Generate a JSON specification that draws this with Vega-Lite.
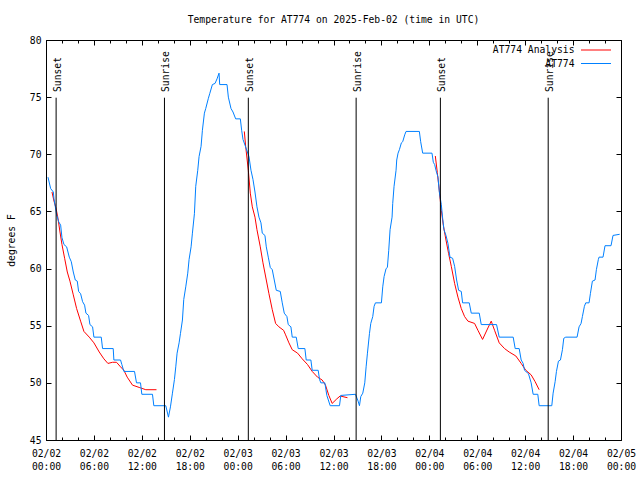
{
  "$schema": "https://vega.github.io/schema/vega-lite/v6.json",
  "width": 575,
  "height": 400,
  "autosize": {"type": "none"},
  "padding": {"left": 46, "top": 40, "right": 19, "bottom": 40},
  "background": "white",
  "title": {"text": "Temperature for AT774 on 2025-Feb-02 (time in UTC)", "font": "DejaVu Sans Mono", "fontSize": 9.7, "fontWeight": "normal", "color": "black", "offset": 10, "anchor": "middle"},
  "config": {
    "view": {"stroke": "black", "strokeWidth": 1},
    "font": "DejaVu Sans Mono",
    "axis": {"grid": false, "domain": false, "tickColor": "black", "labelColor": "black", "labelFont": "DejaVu Sans Mono", "labelFontSize": 9.7, "titleFont": "DejaVu Sans Mono", "titleFontSize": 9.7, "titleFontWeight": "normal", "titleColor": "black", "labelFlush": false, "labelOverlap": false}
  },
  "datasets": {
    "observed": [
      {"series": "AT774", "time": "2025-02-02T00:15:00Z", "temp": 68.0},
      {"series": "AT774", "time": "2025-02-02T00:35:00Z", "temp": 67.0},
      {"series": "AT774", "time": "2025-02-02T00:55:00Z", "temp": 66.7},
      {"series": "AT774", "time": "2025-02-02T01:00:00Z", "temp": 66.1},
      {"series": "AT774", "time": "2025-02-02T01:20:00Z", "temp": 64.7},
      {"series": "AT774", "time": "2025-02-02T01:35:00Z", "temp": 64.1},
      {"series": "AT774", "time": "2025-02-02T01:50:00Z", "temp": 63.8},
      {"series": "AT774", "time": "2025-02-02T02:00:00Z", "temp": 62.7},
      {"series": "AT774", "time": "2025-02-02T02:15:00Z", "temp": 62.1},
      {"series": "AT774", "time": "2025-02-02T02:35:00Z", "temp": 61.9},
      {"series": "AT774", "time": "2025-02-02T02:55:00Z", "temp": 61.0},
      {"series": "AT774", "time": "2025-02-02T03:10:00Z", "temp": 60.6},
      {"series": "AT774", "time": "2025-02-02T03:25:00Z", "temp": 59.7},
      {"series": "AT774", "time": "2025-02-02T03:40:00Z", "temp": 59.0},
      {"series": "AT774", "time": "2025-02-02T03:55:00Z", "temp": 58.9},
      {"series": "AT774", "time": "2025-02-02T04:05:00Z", "temp": 58.0},
      {"series": "AT774", "time": "2025-02-02T04:20:00Z", "temp": 57.8},
      {"series": "AT774", "time": "2025-02-02T04:35:00Z", "temp": 57.1},
      {"series": "AT774", "time": "2025-02-02T04:50:00Z", "temp": 56.8},
      {"series": "AT774", "time": "2025-02-02T05:00:00Z", "temp": 56.1},
      {"series": "AT774", "time": "2025-02-02T05:20:00Z", "temp": 55.9},
      {"series": "AT774", "time": "2025-02-02T05:30:00Z", "temp": 55.1},
      {"series": "AT774", "time": "2025-02-02T05:50:00Z", "temp": 54.9},
      {"series": "AT774", "time": "2025-02-02T06:00:00Z", "temp": 54.0},
      {"series": "AT774", "time": "2025-02-02T06:55:00Z", "temp": 54.0},
      {"series": "AT774", "time": "2025-02-02T07:05:00Z", "temp": 53.0},
      {"series": "AT774", "time": "2025-02-02T08:25:00Z", "temp": 53.0},
      {"series": "AT774", "time": "2025-02-02T08:30:00Z", "temp": 52.0},
      {"series": "AT774", "time": "2025-02-02T09:20:00Z", "temp": 52.0},
      {"series": "AT774", "time": "2025-02-02T09:30:00Z", "temp": 51.6},
      {"series": "AT774", "time": "2025-02-02T09:45:00Z", "temp": 51.0},
      {"series": "AT774", "time": "2025-02-02T11:05:00Z", "temp": 51.0},
      {"series": "AT774", "time": "2025-02-02T11:20:00Z", "temp": 50.0},
      {"series": "AT774", "time": "2025-02-02T11:50:00Z", "temp": 50.0},
      {"series": "AT774", "time": "2025-02-02T12:00:00Z", "temp": 49.0},
      {"series": "AT774", "time": "2025-02-02T13:20:00Z", "temp": 49.0},
      {"series": "AT774", "time": "2025-02-02T13:30:00Z", "temp": 48.0},
      {"series": "AT774", "time": "2025-02-02T15:00:00Z", "temp": 48.0},
      {"series": "AT774", "time": "2025-02-02T15:20:00Z", "temp": 47.0},
      {"series": "AT774", "time": "2025-02-02T15:35:00Z", "temp": 47.9},
      {"series": "AT774", "time": "2025-02-02T15:50:00Z", "temp": 49.1},
      {"series": "AT774", "time": "2025-02-02T16:05:00Z", "temp": 50.3},
      {"series": "AT774", "time": "2025-02-02T16:15:00Z", "temp": 51.4},
      {"series": "AT774", "time": "2025-02-02T16:25:00Z", "temp": 52.6},
      {"series": "AT774", "time": "2025-02-02T16:40:00Z", "temp": 53.5},
      {"series": "AT774", "time": "2025-02-02T16:50:00Z", "temp": 54.3},
      {"series": "AT774", "time": "2025-02-02T17:05:00Z", "temp": 55.5},
      {"series": "AT774", "time": "2025-02-02T17:15:00Z", "temp": 57.3},
      {"series": "AT774", "time": "2025-02-02T17:30:00Z", "temp": 58.4},
      {"series": "AT774", "time": "2025-02-02T17:45:00Z", "temp": 59.6},
      {"series": "AT774", "time": "2025-02-02T17:55:00Z", "temp": 60.8},
      {"series": "AT774", "time": "2025-02-02T18:10:00Z", "temp": 61.9},
      {"series": "AT774", "time": "2025-02-02T18:20:00Z", "temp": 63.1},
      {"series": "AT774", "time": "2025-02-02T18:35:00Z", "temp": 64.8},
      {"series": "AT774", "time": "2025-02-02T18:45:00Z", "temp": 67.2},
      {"series": "AT774", "time": "2025-02-02T19:00:00Z", "temp": 68.6},
      {"series": "AT774", "time": "2025-02-02T19:10:00Z", "temp": 69.8},
      {"series": "AT774", "time": "2025-02-02T19:25:00Z", "temp": 70.7},
      {"series": "AT774", "time": "2025-02-02T19:35:00Z", "temp": 72.1},
      {"series": "AT774", "time": "2025-02-02T19:50:00Z", "temp": 73.6},
      {"series": "AT774", "time": "2025-02-02T20:00:00Z", "temp": 74.0},
      {"series": "AT774", "time": "2025-02-02T20:20:00Z", "temp": 74.9},
      {"series": "AT774", "time": "2025-02-02T20:30:00Z", "temp": 75.3},
      {"series": "AT774", "time": "2025-02-02T20:50:00Z", "temp": 76.1},
      {"series": "AT774", "time": "2025-02-02T21:10:00Z", "temp": 76.2},
      {"series": "AT774", "time": "2025-02-02T21:25:00Z", "temp": 76.6},
      {"series": "AT774", "time": "2025-02-02T21:40:00Z", "temp": 77.1},
      {"series": "AT774", "time": "2025-02-02T21:45:00Z", "temp": 76.1},
      {"series": "AT774", "time": "2025-02-02T22:40:00Z", "temp": 76.1},
      {"series": "AT774", "time": "2025-02-02T22:50:00Z", "temp": 75.0},
      {"series": "AT774", "time": "2025-02-02T23:10:00Z", "temp": 74.0},
      {"series": "AT774", "time": "2025-02-02T23:25:00Z", "temp": 73.7},
      {"series": "AT774", "time": "2025-02-02T23:45:00Z", "temp": 73.1},
      {"series": "AT774", "time": "2025-02-03T00:20:00Z", "temp": 73.1},
      {"series": "AT774", "time": "2025-02-03T00:30:00Z", "temp": 72.1},
      {"series": "AT774", "time": "2025-02-03T00:40:00Z", "temp": 71.3},
      {"series": "AT774", "time": "2025-02-03T00:55:00Z", "temp": 70.8},
      {"series": "AT774", "time": "2025-02-03T01:25:00Z", "temp": 69.8},
      {"series": "AT774", "time": "2025-02-03T01:40:00Z", "temp": 68.6},
      {"series": "AT774", "time": "2025-02-03T01:55:00Z", "temp": 67.8},
      {"series": "AT774", "time": "2025-02-03T02:10:00Z", "temp": 66.7},
      {"series": "AT774", "time": "2025-02-03T02:25:00Z", "temp": 65.4},
      {"series": "AT774", "time": "2025-02-03T02:40:00Z", "temp": 64.5},
      {"series": "AT774", "time": "2025-02-03T02:55:00Z", "temp": 64.0},
      {"series": "AT774", "time": "2025-02-03T03:05:00Z", "temp": 63.1},
      {"series": "AT774", "time": "2025-02-03T03:25:00Z", "temp": 62.9},
      {"series": "AT774", "time": "2025-02-03T03:35:00Z", "temp": 61.9},
      {"series": "AT774", "time": "2025-02-03T03:50:00Z", "temp": 61.0},
      {"series": "AT774", "time": "2025-02-03T04:05:00Z", "temp": 60.1},
      {"series": "AT774", "time": "2025-02-03T04:20:00Z", "temp": 59.9},
      {"series": "AT774", "time": "2025-02-03T04:35:00Z", "temp": 59.0},
      {"series": "AT774", "time": "2025-02-03T04:50:00Z", "temp": 58.1},
      {"series": "AT774", "time": "2025-02-03T05:20:00Z", "temp": 58.0},
      {"series": "AT774", "time": "2025-02-03T05:35:00Z", "temp": 57.0},
      {"series": "AT774", "time": "2025-02-03T05:50:00Z", "temp": 56.1},
      {"series": "AT774", "time": "2025-02-03T06:10:00Z", "temp": 55.8},
      {"series": "AT774", "time": "2025-02-03T06:20:00Z", "temp": 55.1},
      {"series": "AT774", "time": "2025-02-03T06:40:00Z", "temp": 54.9},
      {"series": "AT774", "time": "2025-02-03T06:50:00Z", "temp": 54.0},
      {"series": "AT774", "time": "2025-02-03T07:20:00Z", "temp": 54.0},
      {"series": "AT774", "time": "2025-02-03T07:35:00Z", "temp": 53.0},
      {"series": "AT774", "time": "2025-02-03T08:25:00Z", "temp": 53.0},
      {"series": "AT774", "time": "2025-02-03T08:35:00Z", "temp": 52.0},
      {"series": "AT774", "time": "2025-02-03T09:10:00Z", "temp": 52.0},
      {"series": "AT774", "time": "2025-02-03T09:20:00Z", "temp": 51.1},
      {"series": "AT774", "time": "2025-02-03T10:05:00Z", "temp": 51.1},
      {"series": "AT774", "time": "2025-02-03T10:15:00Z", "temp": 50.3},
      {"series": "AT774", "time": "2025-02-03T10:25:00Z", "temp": 50.0},
      {"series": "AT774", "time": "2025-02-03T10:55:00Z", "temp": 50.0},
      {"series": "AT774", "time": "2025-02-03T11:10:00Z", "temp": 48.9},
      {"series": "AT774", "time": "2025-02-03T11:35:00Z", "temp": 48.0},
      {"series": "AT774", "time": "2025-02-03T12:45:00Z", "temp": 48.0},
      {"series": "AT774", "time": "2025-02-03T12:55:00Z", "temp": 48.9},
      {"series": "AT774", "time": "2025-02-03T14:45:00Z", "temp": 49.0},
      {"series": "AT774", "time": "2025-02-03T15:05:00Z", "temp": 48.4},
      {"series": "AT774", "time": "2025-02-03T15:15:00Z", "temp": 48.0},
      {"series": "AT774", "time": "2025-02-03T15:25:00Z", "temp": 48.8},
      {"series": "AT774", "time": "2025-02-03T15:40:00Z", "temp": 49.1},
      {"series": "AT774", "time": "2025-02-03T15:55:00Z", "temp": 50.0},
      {"series": "AT774", "time": "2025-02-03T16:05:00Z", "temp": 51.4},
      {"series": "AT774", "time": "2025-02-03T16:15:00Z", "temp": 52.6},
      {"series": "AT774", "time": "2025-02-03T16:30:00Z", "temp": 54.3},
      {"series": "AT774", "time": "2025-02-03T16:40:00Z", "temp": 55.2},
      {"series": "AT774", "time": "2025-02-03T16:55:00Z", "temp": 55.8},
      {"series": "AT774", "time": "2025-02-03T17:05:00Z", "temp": 56.7},
      {"series": "AT774", "time": "2025-02-03T17:15:00Z", "temp": 57.0},
      {"series": "AT774", "time": "2025-02-03T18:00:00Z", "temp": 57.0},
      {"series": "AT774", "time": "2025-02-03T18:10:00Z", "temp": 58.4},
      {"series": "AT774", "time": "2025-02-03T18:20:00Z", "temp": 59.3},
      {"series": "AT774", "time": "2025-02-03T18:35:00Z", "temp": 60.0},
      {"series": "AT774", "time": "2025-02-03T18:45:00Z", "temp": 60.1},
      {"series": "AT774", "time": "2025-02-03T18:55:00Z", "temp": 61.6},
      {"series": "AT774", "time": "2025-02-03T19:05:00Z", "temp": 63.4},
      {"series": "AT774", "time": "2025-02-03T19:20:00Z", "temp": 64.5},
      {"series": "AT774", "time": "2025-02-03T19:25:00Z", "temp": 65.7},
      {"series": "AT774", "time": "2025-02-03T19:35:00Z", "temp": 67.2},
      {"series": "AT774", "time": "2025-02-03T19:50:00Z", "temp": 68.6},
      {"series": "AT774", "time": "2025-02-03T19:55:00Z", "temp": 69.5},
      {"series": "AT774", "time": "2025-02-03T20:05:00Z", "temp": 70.1},
      {"series": "AT774", "time": "2025-02-03T20:15:00Z", "temp": 70.4},
      {"series": "AT774", "time": "2025-02-03T20:30:00Z", "temp": 71.0},
      {"series": "AT774", "time": "2025-02-03T20:40:00Z", "temp": 71.1},
      {"series": "AT774", "time": "2025-02-03T20:55:00Z", "temp": 71.7},
      {"series": "AT774", "time": "2025-02-03T21:05:00Z", "temp": 72.0},
      {"series": "AT774", "time": "2025-02-03T22:45:00Z", "temp": 72.0},
      {"series": "AT774", "time": "2025-02-03T22:55:00Z", "temp": 71.1},
      {"series": "AT774", "time": "2025-02-03T23:10:00Z", "temp": 70.1},
      {"series": "AT774", "time": "2025-02-04T00:20:00Z", "temp": 70.1},
      {"series": "AT774", "time": "2025-02-04T00:30:00Z", "temp": 69.3},
      {"series": "AT774", "time": "2025-02-04T00:40:00Z", "temp": 69.1},
      {"series": "AT774", "time": "2025-02-04T00:50:00Z", "temp": 68.6},
      {"series": "AT774", "time": "2025-02-04T01:05:00Z", "temp": 68.0},
      {"series": "AT774", "time": "2025-02-04T01:15:00Z", "temp": 66.7},
      {"series": "AT774", "time": "2025-02-04T01:30:00Z", "temp": 65.6},
      {"series": "AT774", "time": "2025-02-04T01:40:00Z", "temp": 64.4},
      {"series": "AT774", "time": "2025-02-04T01:50:00Z", "temp": 63.4},
      {"series": "AT774", "time": "2025-02-04T02:05:00Z", "temp": 62.9},
      {"series": "AT774", "time": "2025-02-04T02:20:00Z", "temp": 62.2},
      {"series": "AT774", "time": "2025-02-04T02:35:00Z", "temp": 61.0},
      {"series": "AT774", "time": "2025-02-04T02:55:00Z", "temp": 60.9},
      {"series": "AT774", "time": "2025-02-04T03:10:00Z", "temp": 60.2},
      {"series": "AT774", "time": "2025-02-04T03:25:00Z", "temp": 59.0},
      {"series": "AT774", "time": "2025-02-04T03:40:00Z", "temp": 58.1},
      {"series": "AT774", "time": "2025-02-04T04:00:00Z", "temp": 58.0},
      {"series": "AT774", "time": "2025-02-04T04:10:00Z", "temp": 57.0},
      {"series": "AT774", "time": "2025-02-04T05:00:00Z", "temp": 57.0},
      {"series": "AT774", "time": "2025-02-04T05:15:00Z", "temp": 56.1},
      {"series": "AT774", "time": "2025-02-04T06:15:00Z", "temp": 56.1},
      {"series": "AT774", "time": "2025-02-04T06:30:00Z", "temp": 55.1},
      {"series": "AT774", "time": "2025-02-04T08:25:00Z", "temp": 55.1},
      {"series": "AT774", "time": "2025-02-04T08:45:00Z", "temp": 54.0},
      {"series": "AT774", "time": "2025-02-04T10:30:00Z", "temp": 54.0},
      {"series": "AT774", "time": "2025-02-04T10:45:00Z", "temp": 53.0},
      {"series": "AT774", "time": "2025-02-04T11:15:00Z", "temp": 53.0},
      {"series": "AT774", "time": "2025-02-04T11:30:00Z", "temp": 52.0},
      {"series": "AT774", "time": "2025-02-04T11:45:00Z", "temp": 51.7},
      {"series": "AT774", "time": "2025-02-04T11:55:00Z", "temp": 51.1},
      {"series": "AT774", "time": "2025-02-04T12:25:00Z", "temp": 50.8},
      {"series": "AT774", "time": "2025-02-04T12:45:00Z", "temp": 50.0},
      {"series": "AT774", "time": "2025-02-04T13:00:00Z", "temp": 49.0},
      {"series": "AT774", "time": "2025-02-04T13:35:00Z", "temp": 49.0},
      {"series": "AT774", "time": "2025-02-04T13:45:00Z", "temp": 48.0},
      {"series": "AT774", "time": "2025-02-04T15:20:00Z", "temp": 48.0},
      {"series": "AT774", "time": "2025-02-04T15:30:00Z", "temp": 49.1},
      {"series": "AT774", "time": "2025-02-04T15:45:00Z", "temp": 50.1},
      {"series": "AT774", "time": "2025-02-04T15:55:00Z", "temp": 51.0},
      {"series": "AT774", "time": "2025-02-04T16:10:00Z", "temp": 51.9},
      {"series": "AT774", "time": "2025-02-04T16:25:00Z", "temp": 52.0},
      {"series": "AT774", "time": "2025-02-04T16:40:00Z", "temp": 52.9},
      {"series": "AT774", "time": "2025-02-04T16:50:00Z", "temp": 53.9},
      {"series": "AT774", "time": "2025-02-04T17:05:00Z", "temp": 54.0},
      {"series": "AT774", "time": "2025-02-04T18:30:00Z", "temp": 54.0},
      {"series": "AT774", "time": "2025-02-04T18:45:00Z", "temp": 54.9},
      {"series": "AT774", "time": "2025-02-04T19:00:00Z", "temp": 55.2},
      {"series": "AT774", "time": "2025-02-04T19:10:00Z", "temp": 55.8},
      {"series": "AT774", "time": "2025-02-04T19:25:00Z", "temp": 56.7},
      {"series": "AT774", "time": "2025-02-04T19:35:00Z", "temp": 57.0},
      {"series": "AT774", "time": "2025-02-04T20:00:00Z", "temp": 57.0},
      {"series": "AT774", "time": "2025-02-04T20:10:00Z", "temp": 57.8},
      {"series": "AT774", "time": "2025-02-04T20:25:00Z", "temp": 58.9},
      {"series": "AT774", "time": "2025-02-04T20:45:00Z", "temp": 59.0},
      {"series": "AT774", "time": "2025-02-04T20:55:00Z", "temp": 59.9},
      {"series": "AT774", "time": "2025-02-04T21:10:00Z", "temp": 60.8},
      {"series": "AT774", "time": "2025-02-04T21:15:00Z", "temp": 61.0},
      {"series": "AT774", "time": "2025-02-04T21:45:00Z", "temp": 61.0},
      {"series": "AT774", "time": "2025-02-04T22:00:00Z", "temp": 62.0},
      {"series": "AT774", "time": "2025-02-04T22:45:00Z", "temp": 62.0},
      {"series": "AT774", "time": "2025-02-04T23:00:00Z", "temp": 62.9},
      {"series": "AT774", "time": "2025-02-04T23:50:00Z", "temp": 63.0}
    ],
    "analysis": [
      {"series": "AT774 Analysis", "night": 1, "time": "2025-02-02T00:45:00Z", "temp": 66.7},
      {"series": "AT774 Analysis", "night": 1, "time": "2025-02-02T01:00:00Z", "temp": 65.9},
      {"series": "AT774 Analysis", "night": 1, "time": "2025-02-02T01:15:00Z", "temp": 65.3},
      {"series": "AT774 Analysis", "night": 1, "time": "2025-02-02T01:30:00Z", "temp": 64.4},
      {"series": "AT774 Analysis", "night": 1, "time": "2025-02-02T01:45:00Z", "temp": 63.2},
      {"series": "AT774 Analysis", "night": 1, "time": "2025-02-02T02:00:00Z", "temp": 62.1},
      {"series": "AT774 Analysis", "night": 1, "time": "2025-02-02T02:20:00Z", "temp": 60.9},
      {"series": "AT774 Analysis", "night": 1, "time": "2025-02-02T02:40:00Z", "temp": 59.7},
      {"series": "AT774 Analysis", "night": 1, "time": "2025-02-02T03:00:00Z", "temp": 58.9},
      {"series": "AT774 Analysis", "night": 1, "time": "2025-02-02T03:25:00Z", "temp": 57.7},
      {"series": "AT774 Analysis", "night": 1, "time": "2025-02-02T03:50:00Z", "temp": 56.5},
      {"series": "AT774 Analysis", "night": 1, "time": "2025-02-02T04:20:00Z", "temp": 55.4},
      {"series": "AT774 Analysis", "night": 1, "time": "2025-02-02T04:45:00Z", "temp": 54.5},
      {"series": "AT774 Analysis", "night": 1, "time": "2025-02-02T05:25:00Z", "temp": 54.0},
      {"series": "AT774 Analysis", "night": 1, "time": "2025-02-02T06:00:00Z", "temp": 53.5},
      {"series": "AT774 Analysis", "night": 1, "time": "2025-02-02T06:40:00Z", "temp": 52.7},
      {"series": "AT774 Analysis", "night": 1, "time": "2025-02-02T07:15:00Z", "temp": 52.1},
      {"series": "AT774 Analysis", "night": 1, "time": "2025-02-02T07:45:00Z", "temp": 51.7},
      {"series": "AT774 Analysis", "night": 1, "time": "2025-02-02T08:20:00Z", "temp": 51.8},
      {"series": "AT774 Analysis", "night": 1, "time": "2025-02-02T08:50:00Z", "temp": 51.8},
      {"series": "AT774 Analysis", "night": 1, "time": "2025-02-02T09:20:00Z", "temp": 51.4},
      {"series": "AT774 Analysis", "night": 1, "time": "2025-02-02T09:45:00Z", "temp": 51.1},
      {"series": "AT774 Analysis", "night": 1, "time": "2025-02-02T10:10:00Z", "temp": 50.5},
      {"series": "AT774 Analysis", "night": 1, "time": "2025-02-02T10:50:00Z", "temp": 49.8},
      {"series": "AT774 Analysis", "night": 1, "time": "2025-02-02T11:40:00Z", "temp": 49.6},
      {"series": "AT774 Analysis", "night": 1, "time": "2025-02-02T12:30:00Z", "temp": 49.4},
      {"series": "AT774 Analysis", "night": 1, "time": "2025-02-02T13:50:00Z", "temp": 49.4},
      {"series": "AT774 Analysis", "night": 2, "time": "2025-02-03T00:50:00Z", "temp": 72.0},
      {"series": "AT774 Analysis", "night": 2, "time": "2025-02-03T01:00:00Z", "temp": 70.7},
      {"series": "AT774 Analysis", "night": 2, "time": "2025-02-03T01:20:00Z", "temp": 68.6},
      {"series": "AT774 Analysis", "night": 2, "time": "2025-02-03T01:35:00Z", "temp": 66.6},
      {"series": "AT774 Analysis", "night": 2, "time": "2025-02-03T01:50:00Z", "temp": 65.4},
      {"series": "AT774 Analysis", "night": 2, "time": "2025-02-03T02:10:00Z", "temp": 64.5},
      {"series": "AT774 Analysis", "night": 2, "time": "2025-02-03T02:25:00Z", "temp": 63.4},
      {"series": "AT774 Analysis", "night": 2, "time": "2025-02-03T02:50:00Z", "temp": 61.9},
      {"series": "AT774 Analysis", "night": 2, "time": "2025-02-03T03:10:00Z", "temp": 60.5},
      {"series": "AT774 Analysis", "night": 2, "time": "2025-02-03T03:35:00Z", "temp": 59.0},
      {"series": "AT774 Analysis", "night": 2, "time": "2025-02-03T03:55:00Z", "temp": 57.8},
      {"series": "AT774 Analysis", "night": 2, "time": "2025-02-03T04:20:00Z", "temp": 56.4},
      {"series": "AT774 Analysis", "night": 2, "time": "2025-02-03T04:45:00Z", "temp": 55.2},
      {"series": "AT774 Analysis", "night": 2, "time": "2025-02-03T05:10:00Z", "temp": 54.9},
      {"series": "AT774 Analysis", "night": 2, "time": "2025-02-03T05:45:00Z", "temp": 54.6},
      {"series": "AT774 Analysis", "night": 2, "time": "2025-02-03T06:00:00Z", "temp": 54.2},
      {"series": "AT774 Analysis", "night": 2, "time": "2025-02-03T06:25:00Z", "temp": 53.5},
      {"series": "AT774 Analysis", "night": 2, "time": "2025-02-03T06:50:00Z", "temp": 52.9},
      {"series": "AT774 Analysis", "night": 2, "time": "2025-02-03T07:30:00Z", "temp": 52.6},
      {"series": "AT774 Analysis", "night": 2, "time": "2025-02-03T08:05:00Z", "temp": 52.1},
      {"series": "AT774 Analysis", "night": 2, "time": "2025-02-03T08:45:00Z", "temp": 51.6},
      {"series": "AT774 Analysis", "night": 2, "time": "2025-02-03T09:20:00Z", "temp": 51.0},
      {"series": "AT774 Analysis", "night": 2, "time": "2025-02-03T10:00:00Z", "temp": 50.5},
      {"series": "AT774 Analysis", "night": 2, "time": "2025-02-03T10:35:00Z", "temp": 50.25},
      {"series": "AT774 Analysis", "night": 2, "time": "2025-02-03T11:00:00Z", "temp": 49.8},
      {"series": "AT774 Analysis", "night": 2, "time": "2025-02-03T11:25:00Z", "temp": 48.9},
      {"series": "AT774 Analysis", "night": 2, "time": "2025-02-03T11:50:00Z", "temp": 48.2},
      {"series": "AT774 Analysis", "night": 2, "time": "2025-02-03T12:25:00Z", "temp": 48.6},
      {"series": "AT774 Analysis", "night": 2, "time": "2025-02-03T12:50:00Z", "temp": 48.85},
      {"series": "AT774 Analysis", "night": 2, "time": "2025-02-03T13:45:00Z", "temp": 48.7},
      {"series": "AT774 Analysis", "night": 3, "time": "2025-02-04T00:45:00Z", "temp": 69.85},
      {"series": "AT774 Analysis", "night": 3, "time": "2025-02-04T01:00:00Z", "temp": 68.4},
      {"series": "AT774 Analysis", "night": 3, "time": "2025-02-04T01:15:00Z", "temp": 66.8},
      {"series": "AT774 Analysis", "night": 3, "time": "2025-02-04T01:30:00Z", "temp": 65.1},
      {"series": "AT774 Analysis", "night": 3, "time": "2025-02-04T01:45:00Z", "temp": 63.8},
      {"series": "AT774 Analysis", "night": 3, "time": "2025-02-04T02:05:00Z", "temp": 62.5},
      {"series": "AT774 Analysis", "night": 3, "time": "2025-02-04T02:25:00Z", "temp": 61.3},
      {"series": "AT774 Analysis", "night": 3, "time": "2025-02-04T02:45:00Z", "temp": 60.2},
      {"series": "AT774 Analysis", "night": 3, "time": "2025-02-04T03:10:00Z", "temp": 58.7},
      {"series": "AT774 Analysis", "night": 3, "time": "2025-02-04T03:35:00Z", "temp": 57.5},
      {"series": "AT774 Analysis", "night": 3, "time": "2025-02-04T04:00:00Z", "temp": 56.5},
      {"series": "AT774 Analysis", "night": 3, "time": "2025-02-04T04:25:00Z", "temp": 55.8},
      {"series": "AT774 Analysis", "night": 3, "time": "2025-02-04T04:50:00Z", "temp": 55.4},
      {"series": "AT774 Analysis", "night": 3, "time": "2025-02-04T05:40:00Z", "temp": 55.2},
      {"series": "AT774 Analysis", "night": 3, "time": "2025-02-04T06:05:00Z", "temp": 54.6},
      {"series": "AT774 Analysis", "night": 3, "time": "2025-02-04T06:40:00Z", "temp": 53.8},
      {"series": "AT774 Analysis", "night": 3, "time": "2025-02-04T07:20:00Z", "temp": 54.8},
      {"series": "AT774 Analysis", "night": 3, "time": "2025-02-04T07:45:00Z", "temp": 55.4},
      {"series": "AT774 Analysis", "night": 3, "time": "2025-02-04T08:10:00Z", "temp": 54.6},
      {"series": "AT774 Analysis", "night": 3, "time": "2025-02-04T08:45:00Z", "temp": 53.5},
      {"series": "AT774 Analysis", "night": 3, "time": "2025-02-04T09:25:00Z", "temp": 53.0},
      {"series": "AT774 Analysis", "night": 3, "time": "2025-02-04T10:00:00Z", "temp": 52.7},
      {"series": "AT774 Analysis", "night": 3, "time": "2025-02-04T10:50:00Z", "temp": 52.35},
      {"series": "AT774 Analysis", "night": 3, "time": "2025-02-04T11:30:00Z", "temp": 51.7},
      {"series": "AT774 Analysis", "night": 3, "time": "2025-02-04T12:05:00Z", "temp": 51.1},
      {"series": "AT774 Analysis", "night": 3, "time": "2025-02-04T12:45:00Z", "temp": 50.7},
      {"series": "AT774 Analysis", "night": 3, "time": "2025-02-04T13:15:00Z", "temp": 50.1},
      {"series": "AT774 Analysis", "night": 3, "time": "2025-02-04T13:45:00Z", "temp": 49.4}
    ],
    "events": [
      {"time": "2025-02-02T01:16:00Z", "event": "Sunset"},
      {"time": "2025-02-02T14:50:00Z", "event": "Sunrise"},
      {"time": "2025-02-03T01:20:00Z", "event": "Sunset"},
      {"time": "2025-02-03T14:50:00Z", "event": "Sunrise"},
      {"time": "2025-02-04T01:23:00Z", "event": "Sunset"},
      {"time": "2025-02-04T14:53:00Z", "event": "Sunrise"}
    ]
  },
  "layer": [
    {
      "data": {"name": "analysis"},
      "mark": {"type": "line", "strokeWidth": 1},
      "encoding": {
        "x": {"field": "time", "type": "temporal", "scale": {"type": "utc", "domain": [1738454400000, 1738713600000]}, "axis": {"orient": "bottom", "title": null, "values": [1738454400000, 1738476000000, 1738497600000, 1738519200000, 1738540800000, 1738562400000, 1738584000000, 1738605600000, 1738627200000, 1738648800000, 1738670400000, 1738692000000, 1738713600000], "tickSize": -5, "labelPadding": 13, "labelExpr": "[utcFormat(datum.value, '%m/%d'), utcFormat(datum.value, '%H:%M')]", "labelLineHeight": 13}},
        "y": {"field": "temp", "type": "quantitative", "scale": {"domain": [45, 80], "nice": false, "zero": false}, "axis": {"orient": "left", "values": [45, 50, 55, 60, 65, 70, 75, 80], "tickSize": -5, "labelPadding": 10, "title": "degrees F", "titlePadding": 13}},
        "color": {"field": "series", "type": "nominal", "scale": {"domain": ["AT774 Analysis", "AT774"], "range": ["#ff0000", "#0080ff"]}, "legend": {"orient": "none", "legendX": 544.5, "legendY": 4.5, "title": null, "symbolType": "M-3,0H3", "symbolSize": 100, "symbolStrokeWidth": 1, "labelAlign": "right", "labelOffset": -27, "rowPadding": 2.5, "padding": 0, "labelFont": "DejaVu Sans Mono", "labelFontSize": 9.7, "labelColor": "black"}},
        "detail": {"field": "night", "type": "nominal"}
      }
    },
    {
      "data": {"name": "observed"},
      "mark": {"type": "line", "strokeWidth": 1},
      "encoding": {
        "x": {"field": "time", "type": "temporal", "axis": {"orient": "bottom", "title": null, "values": [1738454400000, 1738461600000, 1738468800000, 1738476000000, 1738483200000, 1738490400000, 1738497600000, 1738504800000, 1738512000000, 1738519200000, 1738526400000, 1738533600000, 1738540800000, 1738548000000, 1738555200000, 1738562400000, 1738569600000, 1738576800000, 1738584000000, 1738591200000, 1738598400000, 1738605600000, 1738612800000, 1738620000000, 1738627200000, 1738634400000, 1738641600000, 1738648800000, 1738656000000, 1738663200000, 1738670400000, 1738677600000, 1738684800000, 1738692000000, 1738699200000, 1738706400000, 1738713600000], "tickSize": -3, "labels": false}},
        "y": {"field": "temp", "type": "quantitative", "axis": {"orient": "right", "values": [45, 50, 55, 60, 65, 70, 75, 80], "tickSize": -5, "labels": false, "title": null}},
        "color": {"field": "series", "type": "nominal"}
      }
    },
    {
      "data": {"name": "events"},
      "mark": {"type": "rule", "color": "black", "strokeWidth": 1},
      "encoding": {
        "x": {"field": "time", "type": "temporal", "axis": {"orient": "top", "title": null, "values": [1738454400000, 1738476000000, 1738497600000, 1738519200000, 1738540800000, 1738562400000, 1738584000000, 1738605600000, 1738627200000, 1738648800000, 1738670400000, 1738692000000, 1738713600000], "tickSize": -5, "labels": false}},
        "y": {"datum": 45, "type": "quantitative", "axis": null},
        "y2": {"datum": 74.95}
      }
    },
    {
      "data": {"name": "events"},
      "mark": {"type": "text", "angle": 270, "align": "left", "baseline": "middle", "font": "DejaVu Sans Mono", "fontSize": 9.7, "color": "black", "dy": 1.5},
      "encoding": {
        "x": {"field": "time", "type": "temporal", "axis": {"orient": "top", "title": null, "values": [1738454400000, 1738461600000, 1738468800000, 1738476000000, 1738483200000, 1738490400000, 1738497600000, 1738504800000, 1738512000000, 1738519200000, 1738526400000, 1738533600000, 1738540800000, 1738548000000, 1738555200000, 1738562400000, 1738569600000, 1738576800000, 1738584000000, 1738591200000, 1738598400000, 1738605600000, 1738612800000, 1738620000000, 1738627200000, 1738634400000, 1738641600000, 1738648800000, 1738656000000, 1738663200000, 1738670400000, 1738677600000, 1738684800000, 1738692000000, 1738699200000, 1738706400000, 1738713600000], "tickSize": -3, "labels": false}},
        "y": {"datum": 75.45, "type": "quantitative", "axis": null},
        "text": {"field": "event"}
      }
    }
  ],
  "resolve": {"axis": {"x": "independent", "y": "independent"}}
}
